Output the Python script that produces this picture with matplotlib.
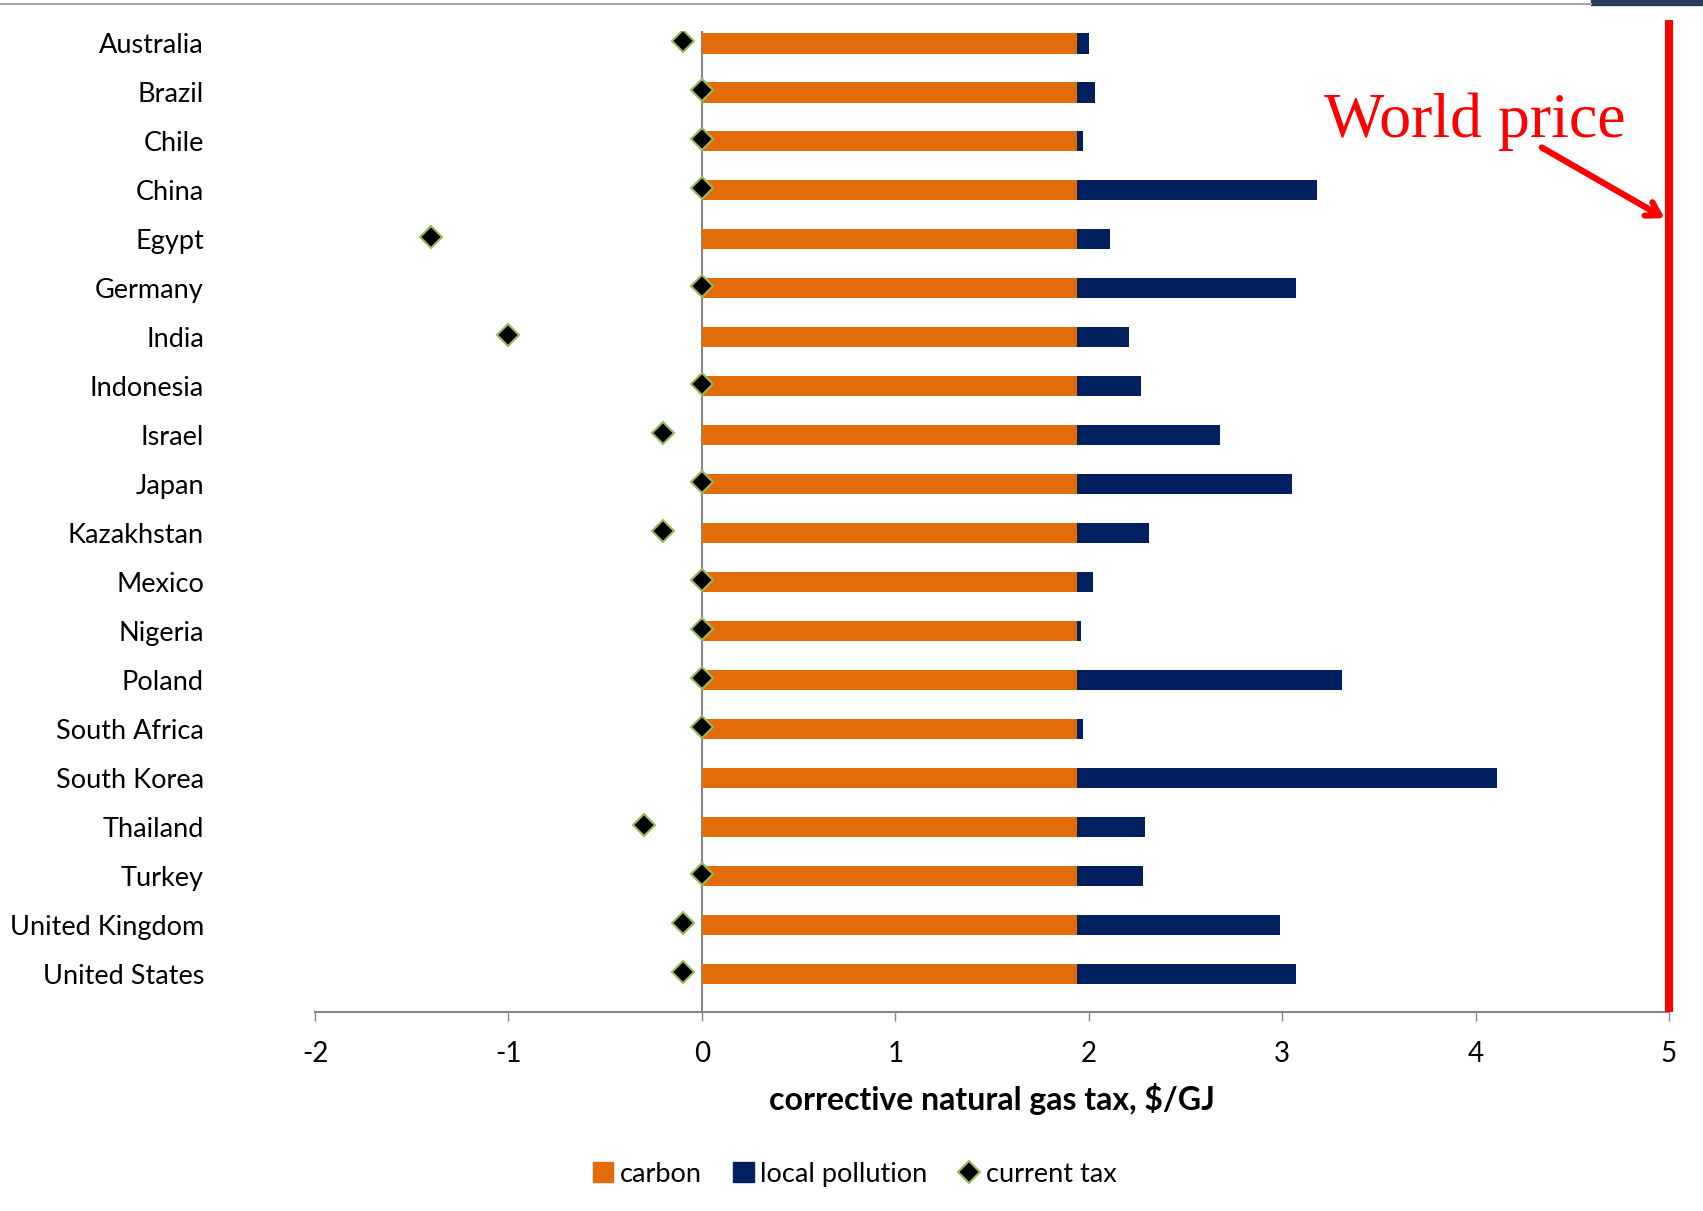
import numpy as np
import matplotlib.pyplot as plt
from matplotlib.patches import Rectangle
from matplotlib.lines import Line2D

countries = ["Australia", "Brazil", "Chile", "China", "Egypt", "Germany", "India",
             "Indonesia", "Israel", "Japan", "Kazakhstan", "Mexico", "Nigeria",
             "Poland", "South Africa", "South Korea", "Thailand", "Turkey",
             "United Kingdom", "United States"]

carbon = [1.94] * len(countries)
total = [2.00, 2.03, 1.97, 3.18, 2.11, 3.07, 2.21, 2.27, 2.68, 3.05,
         2.31, 2.02, 1.96, 3.31, 1.97, 4.11, 2.29, 2.28, 2.99, 3.07]
local_pollution = [t - c for t, c in zip(total, carbon)]
current_tax = [-0.10, 0.0, 0.0, 0.0, -1.40, 0.0, -1.00, 0.0, -0.20, 0.0,
               -0.20, 0.0, 0.0, 0.0, 0.0, np.nan, -0.30, 0.0, -0.10, -0.10]
world_price = 5.0

ORANGE = "#E36C0A"
NAVY = "#002060"
GREEN = "#9BBB59"
GRAY = "#868686"

plt.rcParams["font.family"] = ["Lato", "DejaVu Sans"]
plt.rcParams["axes.unicode_minus"] = False

fig = plt.figure(figsize=(17.03, 12.11), dpi=100)
ax = fig.add_axes([0.185, 0.1643, 0.795, 0.8101])

y = np.arange(len(countries))
ax.barh(y, carbon, height=0.42, color=ORANGE, zorder=2)
ax.barh(y, local_pollution, left=carbon, height=0.42, color=NAVY, zorder=2)
ax.plot(current_tax, y - 0.04, linestyle="none", marker="D", markersize=11,
        markerfacecolor="black", markeredgecolor=GREEN, markeredgewidth=1.5,
        zorder=4)

ax.axvline(0, color=GRAY, lw=1.5, zorder=1)

ax.set_xlim(-2, 5)
ax.set_ylim(len(countries) - 1 + 0.78, -0.25)
ax.set_xticks(range(-2, 6))
ax.set_yticks(y)
ax.set_yticklabels(countries)

for side in ["top", "right", "left"]:
    ax.spines[side].set_visible(False)
ax.spines["bottom"].set_color(GRAY)
ax.spines["bottom"].set_linewidth(1.5)
ax.tick_params(axis="y", length=0, pad=80, labelsize=19.5)
ax.tick_params(axis="x", length=6.5, width=1, color=GRAY, pad=14, labelsize=20)

ax.set_xlabel("corrective natural gas tax, $/GJ", fontsize=23, fontweight="bold",
              labelpad=12)

# world price marker line, reaching a little above the plot area
ax.plot([world_price, world_price], [ax.get_ylim()[0], -0.47], color="red",
        lw=5.8, clip_on=False, solid_capstyle="butt", zorder=5)
ax.annotate("", xy=(world_price - 0.01, 3.6), xytext=(4.33, 2.1),
            arrowprops=dict(arrowstyle="->,head_length=0.9,head_width=0.55",
                            color="red", lw=4.5))
fig.text(0.7775, 0.887, "World price", color="red", fontsize=46,
         family="Liberation Serif", ha="left", va="baseline")

handles = [Rectangle((0, 0), 1, 1, color=ORANGE),
           Rectangle((0, 0), 1, 1, color=NAVY),
           Line2D([], [], linestyle="none", marker="D", markersize=11,
                  markerfacecolor="black", markeredgecolor=GREEN,
                  markeredgewidth=1.5)]
fig.legend(handles, ["carbon", "local pollution", "current tax"],
           loc="center", bbox_to_anchor=(0.502, 0.0305), ncol=3, frameon=False,
           fontsize=19.5, handlelength=0.75, handleheight=0.75,
           handletextpad=0.25, columnspacing=1.15)

# slide header rule and image corner at the top of the page
fig.add_artist(Line2D([0, 0.934], [0.9967, 0.9967], color="#A6A6A6", lw=1.5,
                      transform=fig.transFigure))
fig.add_artist(Rectangle((0.934, 0.9960), 0.066, 0.004, color="#2B3A5C",
                         transform=fig.transFigure))

fig.savefig("out.png", dpi=100)
